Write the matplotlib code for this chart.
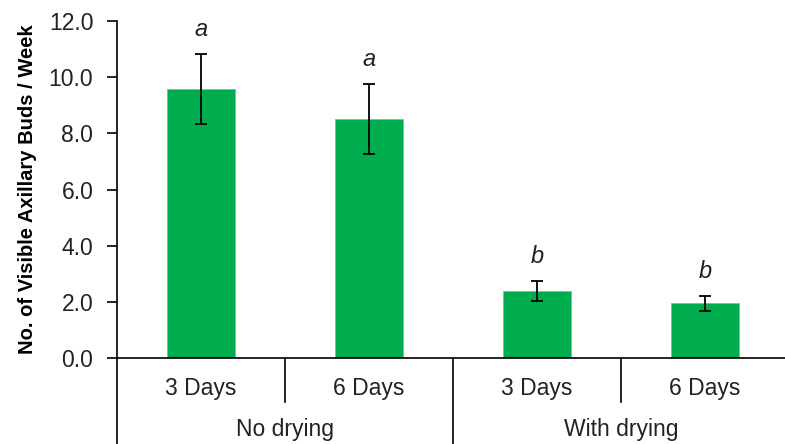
import matplotlib.pyplot as plt
import matplotlib.transforms as mtransforms
import numpy as np

plt.rcParams['font.family'] = ['Liberation Sans', 'DejaVu Sans']

days = ['3 Days', '6 Days', '3 Days', '6 Days']
groups = ['No drying', 'With drying']
buds = [9.57, 8.51, 2.40, 1.95]
errors = [1.25, 1.25, 0.36, 0.27]
letters = ['a', 'a', 'b', 'b']

x = np.arange(len(buds))

fig = plt.figure(figsize=(7.85, 4.44), dpi=100)
ax = fig.add_axes([0.149, 0.193, 0.851, 0.760])

ax.bar(x, buds, width=0.40, color='#00ad4e', edgecolor='#5fd08f', linewidth=0.6, zorder=2)
ax.errorbar(x, buds, yerr=errors, fmt='none', ecolor='black', elinewidth=1.3,
            capsize=4.5, capthick=1.3, zorder=3)

for xi, v, e, t in zip(x, buds, errors, letters):
    ax.text(xi, v + e + 0.45, t, ha='center', va='bottom', fontsize=17,
            style='italic', color='#222222')

ax.set_xlim(-0.5, 3.476)
ax.set_ylim(0, 12)
ax.set_yticks(np.arange(0, 12.1, 2))
ax.set_yticklabels([f'{v:.1f}' for v in np.arange(0, 12.1, 2)])
ax.tick_params(axis='y', labelsize=16.5, length=7, width=1.2, labelcolor='#222222', pad=10)
ax.set_xticks([])
ax.spines['top'].set_visible(False)
ax.spines['right'].set_visible(False)
ax.spines['left'].set_linewidth(1.2)
ax.spines['bottom'].set_linewidth(1.2)
ax.set_ylabel('No. of Visible Axillary Buds / Week', fontsize=14.5, fontweight='bold')
ax.yaxis.set_label_coords(-0.12, 0.5)

# multi-level category axis
trans = mtransforms.blended_transform_factory(ax.transData, ax.transAxes)
for xi, d in zip(x, days):
    ax.text(xi, -0.09, d, transform=trans, ha='center', va='center', fontsize=16.5, color='#222222')
for gi, g in enumerate(groups):
    ax.text(gi * 2 + 0.5, -0.21, g, transform=trans, ha='center', va='center', fontsize=16.5, color='#222222')

ax.plot([0.5, 0.5], [0, -0.1286], transform=trans, color='black', lw=1.2, clip_on=False)
ax.plot([2.5, 2.5], [0, -0.1286], transform=trans, color='black', lw=1.2, clip_on=False)
ax.plot([-0.5, -0.5], [0, -0.26], transform=trans, color='black', lw=1.2, clip_on=False)
ax.plot([1.5, 1.5], [0, -0.26], transform=trans, color='black', lw=1.2, clip_on=False)

plt.savefig('out.png', dpi=100)
